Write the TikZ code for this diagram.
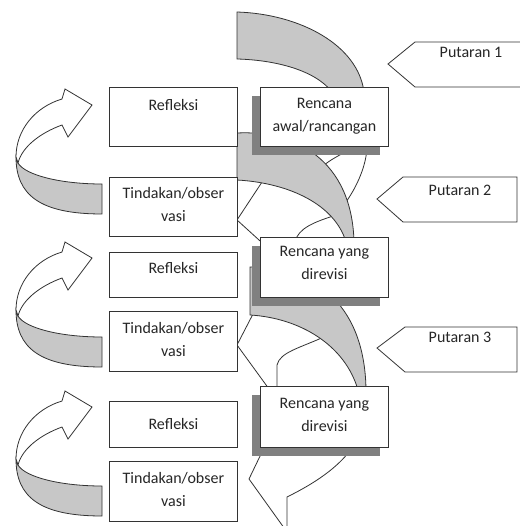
\documentclass[tikz,border=0pt]{standalone}
\usepackage{fontspec}
\setmainfont{Carlito}
\usetikzlibrary{shadows}
% box text: height, first baseline, text
\newcommand{\isikotak}[3]{\parbox[c][#1][t]{126pt}{\centering\rule{0pt}{#2}#3}}

\begin{document}
\begin{tikzpicture}[scale=1.000000,x=1pt,y=-1pt,
  every node/.style={font=\fontsize{16}{23}\selectfont, text=black!85},
  garis/.style={draw=black!80, line width=0.8pt},
  kotak/.style={garis, fill=white, inner sep=0pt, minimum width=128pt, anchor=north west},
  rencana/.style={kotak, drop shadow={shadow xshift=-8pt, shadow yshift=-9pt, fill=black!50, opacity=1}},
  pita/.style={garis, fill=black!22},
  muka/.style={garis, fill=white}]
\useasboundingbox (0.000000, 0.000000) rectangle (519.000000, 526.000000);
\fill[color=white] (0.000000, 0.000000) rectangle (519.000000, 526.000000);
% Drawing curved arrows on the left
\foreach \ty in {105,258,407} {
\begin{scope}[shift={(0,\ty)}]
\path[pita] (16.000000, 52.000000) .. controls (16.000000, 90.000000) and (40.000000, 109.000000) .. (102.000000, 109.000000) -- (102.000000, 79.000000) .. controls (60.000000, 79.000000) and (25.000000, 70.000000) .. (18.000000, 58.000000) -- cycle;
\path[muka] (92.000000, 0.000000) -- (65.000000, -16.000000) -- (62.000000, -6.000000) .. controls (35.000000, 2.000000) and (16.000000, 25.000000) .. (16.000000, 52.000000) -- (18.000000, 58.000000) .. controls (22.000000, 42.000000) and (40.000000, 28.000000) .. (62.000000, 20.000000) -- (68.000000, 32.000000) -- cycle;
\end{scope}
}
% Drawing ribbons and arrows on the right
% Round 1
\path[pita] (237.000000, 12.000000) .. controls (300.000000, 14.000000) and (358.000000, 45.000000) .. (364.000000, 92.000000) -- (332.000000, 92.000000) .. controls (315.000000, 70.000000) and (275.000000, 60.000000) .. (237.000000, 59.000000) -- cycle;
\path[muka] (237.000000, 220.000000) -- (266.000000, 176.000000) -- (300.000000, 175.000000) -- (323.000000, 166.000000) .. controls (330.000000, 160.000000) and (338.000000, 156.000000) .. (347.000000, 151.000000) -- (367.000000, 148.000000) .. controls (366.000000, 165.000000) and (358.000000, 185.000000) .. (346.000000, 202.000000) -- (338.000000, 214.000000) -- (333.000000, 216.000000) .. controls (315.000000, 222.000000) and (298.000000, 228.000000) .. (295.000000, 242.000000) -- (270.000000, 250.000000) -- cycle;
% Round 2
\path[pita] (237.000000, 133.000000) .. controls (295.000000, 130.000000) and (352.000000, 160.000000) .. (354.000000, 242.000000) -- (346.000000, 242.000000) .. controls (335.000000, 205.000000) and (290.000000, 183.000000) .. (237.000000, 180.000000) -- cycle;
\path[muka] (237.000000, 345.000000) -- (253.000000, 314.000000) -- (300.000000, 322.000000) -- (326.000000, 336.000000) .. controls (300.000000, 348.000000) and (280.000000, 352.000000) .. (277.000000, 365.000000) -- (277.000000, 400.000000) -- cycle;
% Round 3
\path[pita] (250.000000, 267.000000) .. controls (320.000000, 267.000000) and (365.000000, 310.000000) .. (366.000000, 390.000000) -- (358.000000, 390.000000) .. controls (345.000000, 345.000000) and (300.000000, 318.000000) .. (250.000000, 315.000000) -- cycle;
\path[muka] (249.000000, 479.000000) -- (262.000000, 452.000000) -- (300.000000, 440.000000) -- (352.000000, 448.000000) .. controls (335.000000, 472.000000) and (305.000000, 488.000000) .. (287.000000, 497.000000) -- (287.000000, 532.000000) -- cycle;
% Done with ribbons; drawing boxes
\node[kotak] (refleksiA) at (109.000000, 87.000000) {\isikotak{59pt}{23pt}{Refleksi}};
\node[kotak] (tindakanA) at (109.000000, 177.000000) {\isikotak{59pt}{21pt}{Tindakan/obser\\vasi}};
\node[kotak] (refleksiB) at (109.000000, 252.000000) {\isikotak{45pt}{21pt}{Refleksi}};
\node[kotak] (tindakanB) at (109.000000, 311.000000) {\isikotak{60pt}{22pt}{Tindakan/obser\\vasi}};
\node[kotak] (refleksiC) at (109.000000, 401.000000) {\isikotak{46pt}{28pt}{Refleksi}};
\node[kotak] (tindakanC) at (109.000000, 461.000000) {\isikotak{60pt}{22pt}{Tindakan/obser\\vasi}};
\node[rencana] (rencanaA) at (260.000000, 87.000000) {\isikotak{59pt}{21pt}{Rencana\\awal/rancangan}};
\node[rencana] (rencanaB) at (260.000000, 237.000000) {\isikotak{60pt}{19pt}{Rencana yang\\direvisi}};
\node[rencana] (rencanaC) at (260.000000, 386.000000) {\isikotak{61pt}{22pt}{Rencana yang\\direvisi}};
% Done with boxes; drawing round labels
\path[muka] (388.000000, 64.000000) -- (415.000000, 42.000000) -- (528.000000, 42.000000) -- (528.000000, 87.000000) -- (415.000000, 87.000000) -- cycle;
\node (putaranA) at (471.000000, 52.000000) {Putaran 1};
\path[muka] (377.000000, 199.000000) -- (403.000000, 177.000000) -- (517.000000, 177.000000) -- (517.000000, 222.000000) -- (403.000000, 222.000000) -- cycle;
\node (putaranB) at (460.000000, 190.000000) {Putaran 2};
\path[muka] (377.000000, 348.000000) -- (405.000000, 327.000000) -- (517.000000, 327.000000) -- (517.000000, 372.000000) -- (405.000000, 372.000000) -- cycle;
\node (putaranC) at (460.000000, 337.000000) {Putaran 3};
% Done with labels
\end{tikzpicture}
\end{document}
